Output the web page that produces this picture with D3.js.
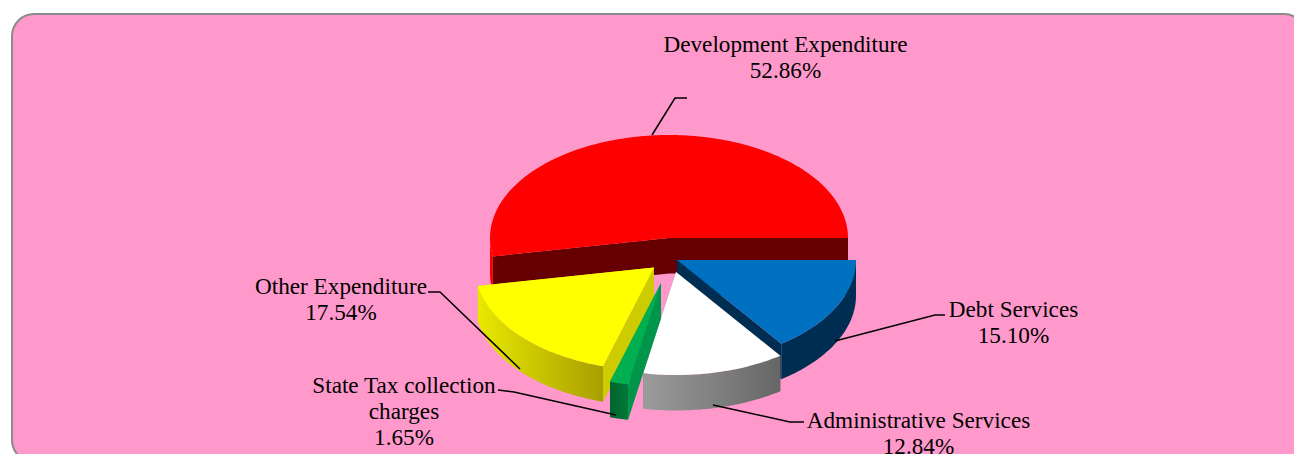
<!DOCTYPE html>
<html><head><meta charset="utf-8">
<script src="https://cdn.jsdelivr.net/npm/d3@7"></script>
<style>html,body{margin:0;padding:0;background:#fff;overflow:hidden}svg{display:block}text{font-family:"Liberation Serif",serif;font-size:23.2px;fill:#000}</style>
</head><body><svg id="c" width="1294" height="454"></svg>
<script>
const categories = ["Development Expenditure","Debt Services","Administrative Services","State Tax collection charges","Other Expenditure"];
const shares = [52.86,15.10,12.84,1.65,17.54];
const shareLabels = ["52.86%","15.10%","12.84%","1.65%","17.54%"];
const labelLines = [["Development Expenditure","52.86%"],["Debt Services","15.10%"],["Administrative Services","12.84%"],["State Tax collection","charges","1.65%"],["Other Expenditure","17.54%"]];
const topColors = ["#FF0000","#0070C0","#FFFFFF","#00B050","#FFFF00"];
const faceColors = ["#660000","#002E52","#777777","#00954A","#CCCC00"];
const wallStart = ["#FF0000","#002E52","#9C9C9C","#00632C","#E8E800"];
const wallEnd = ["#EE0000","#002E52","#666666","#007A38","#A89F00"];

const svg = d3.select("#c"), defs = svg.append("defs");
const W = {cx:669, cy:238, rx:179, ry:103, depth:35.5};
const offsets = [[0,0],[8,22],[7,34],[-8,45],[-15,29.5]];
const labelAnchors = [[785.5,51.5],[1013.5,316.5],[918.5,427.5],[404,392.5],[341,293.5]];
const leaders = [[[652,135],[675,98],[687,98]],[[835,341],[935,315],[945,315]],[[713,405],[790,422],[804,422]],[[498,390],[514,392],[616,415]],[[428,292],[440,292],[520,369]]];
const drawOrder = [0,1,2,4,3];

svg.append("rect").attr("x",12).attr("y",14).attr("width",1294).attr("height",448).attr("rx",22)
  .attr("fill","#FF99CC").attr("stroke","#8A8A8A").attr("stroke-width",2);

// Red's start so that it ends at 3 o'clock, running clockwise
const total = d3.sum(shares);
const start = Math.PI/2 - shares[0]/total*2*Math.PI;
const arcs = d3.pie().sort(null).startAngle(start).endAngle(start+2*Math.PI)(shares);

const px = d3.scaleLinear().domain([-1,1]).range([W.cx-W.rx,W.cx+W.rx]);
const py = d3.scaleLinear().domain([-1,1]).range([W.cy+W.ry,W.cy-W.ry]);
const rim = (a,o,dz=0)=>[px(Math.sin(a))+o[0],py(Math.cos(a))+o[1]+dz];
const angles=(a,b)=>{const n=Math.max(2,Math.ceil((b-a)/0.02));return d3.range(n+1).map(i=>a+(b-a)*i/n);};
const line = d3.line();

drawOrder.forEach(i=>{
  const d=arcs[i], o=offsets[i], g=svg.append("g");
  const tip=[W.cx+o[0],W.cy+o[1]], down=p=>[p[0],p[1]+W.depth];
  const a0=d.startAngle, a1=d.endAngle;
  const face=a=>{const r=rim(a,o);return line([tip,r,down(r),down(tip)])+"Z";};
  g.append("path").attr("d",face(a0)).attr("fill",faceColors[i]);
  g.append("path").attr("d",face(a1)).attr("fill",faceColors[i]);
  const lo=Math.max(a0,Math.PI/2), hi=Math.min(a1,3*Math.PI/2);
  const segs=[];
  if(hi>lo) segs.push([lo,hi]);
  const lo2=Math.max(a0,-3*Math.PI/2), hi2=Math.min(a1,-Math.PI/2);
  if(hi2>lo2) segs.push([lo2,hi2]);
  segs.forEach((s,k)=>{
    const pts=angles(s[0],s[1]).map(a=>rim(a,o));
    const xs=d3.extent(pts,p=>p[0]), id="w"+i+"_"+k;
    const gr=defs.append("linearGradient").attr("id",id).attr("gradientUnits","userSpaceOnUse")
      .attr("x1",xs[0]).attr("x2",xs[1]).attr("y1",0).attr("y2",0);
    gr.append("stop").attr("offset",0).attr("stop-color",wallStart[i]);
    gr.append("stop").attr("offset",1).attr("stop-color",wallEnd[i]);
    g.append("path").attr("d",line(pts.concat(pts.map(down).reverse()))+"Z").attr("fill",`url(#${id})`);
  });
  const top=[tip].concat(angles(a0,a1).map(a=>rim(a,o)));
  g.append("path").attr("d",line(top)+"Z").attr("fill",topColors[i]);
});

leaders.forEach(l=>svg.append("path").attr("d",line(l)).attr("fill","none").attr("stroke","#000").attr("stroke-width",1.5));
labelLines.forEach((ls,i)=>{
  const t=svg.append("text").attr("text-anchor","middle");
  ls.forEach((s,j)=>t.append("tspan").attr("x",labelAnchors[i][0]).attr("y",labelAnchors[i][1]+j*26.2).text(s));
});
</script></body></html>
